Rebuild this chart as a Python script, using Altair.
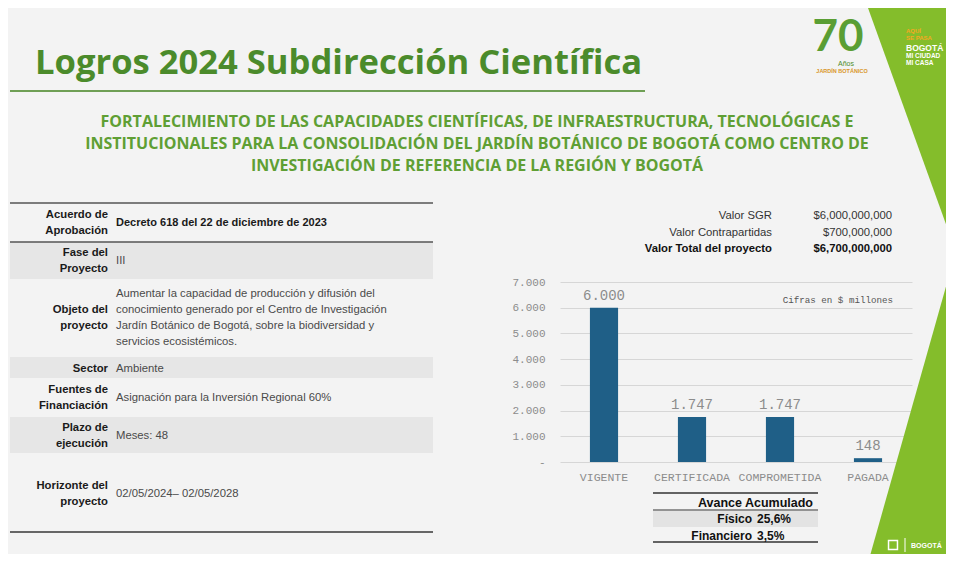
import altair as alt
import pandas as pd

# ---------------- data ----------------
categories = ["VIGENTE", "CERTIFICADA", "COMPROMETIDA", "PAGADA"]
values_mm = [6000, 1747, 1747, 148]
y_ticks = [0, 1000, 2000, 3000, 4000, 5000, 6000, 7000]

title_text = "Logros 2024 Subdirección Científica"
subtitle_lines = [
    "FORTALECIMIENTO DE LAS CAPACIDADES CIENTÍFICAS, DE INFRAESTRUCTURA, TECNOLÓGICAS E",
    "INSTITUCIONALES PARA LA CONSOLIDACIÓN DEL JARDÍN BOTÁNICO DE BOGOTÁ COMO CENTRO DE",
    "INVESTIGACIÓN DE REFERENCIA DE LA REGIÓN Y BOGOTÁ",
]
table_labels = [
    ["Acuerdo de", "Aprobación"],
    ["Fase del", "Proyecto"],
    ["Objeto del", "proyecto"],
    ["Sector"],
    ["Fuentes de", "Financiación"],
    ["Plazo de", "ejecución"],
    ["Horizonte del", "proyecto"],
]
table_values = [
    ["Decreto 618 del 22 de diciembre de 2023"],
    ["III"],
    ["Aumentar la capacidad de producción y difusión del",
     "conocimiento generado por el Centro de Investigación",
     "Jardín Botánico de Bogotá, sobre la biodiversidad y",
     "servicios ecosistémicos."],
    ["Ambiente"],
    ["Asignación para la Inversión Regional 60%"],
    ["Meses: 48"],
    ["02/05/2024– 02/05/2028"],
]
valor_labels = ["Valor SGR", "Valor Contrapartidas", "Valor Total del proyecto"]
valor_amounts = ["$6,000,000,000", "$700,000,000", "$6,700,000,000"]
avance_title = "Avance Acumulado"
avance_labels = ["Físico", "Financiero"]
avance_values = ["25,6%", "3,5%"]
cifras_note = "Cifras en $ millones"

# ---------------- layout / style ----------------
SANS = "Liberation Sans"
MONO = "Liberation Mono"
HEAD = "Open Sans"
GREEN_T = "#4b8b2b"
GREEN_S = "#5f9f34"
GREEN_BAND = "#84bd2b"
BAR = "#1f5f87"
AXIS_GRAY = "#8c8c8c"

PX0, PY0 = 560, 282          # page position of plot origin
PLOT_W, PLOT_H = 352, 180
TOTAL_W, TOTAL_H = 938, 546
LINE_H = 16


def X(p):
    return p - PX0


def Y(p):
    return p - PY0


ONE = pd.DataFrame({"k": [0]})


def txt(text, x, y, size, color, font=SANS, weight="normal", align="left",
        baseline="middle", line_height=None):
    props = dict(text=text, fontSize=size, color=color, font=font,
                 fontWeight=weight, align=align, baseline=baseline)
    if isinstance(text, list) and len(text) > 1:
        lh = line_height or LINE_H
        props["lineHeight"] = lh
        y = y - (len(text) - 1) * lh / 2.0   # centre the block on y
    return alt.Chart(ONE).mark_text(**props).encode(
        x=alt.value(X(x)), y=alt.value(Y(y)))


def hrule(x1, x2, y, color, width):
    return alt.Chart(ONE).mark_rule(color=color, strokeWidth=width).encode(
        x=alt.value(X(x1)), x2=alt.value(X(x2)), y=alt.value(Y(y)))


def vrule(x, y1, y2, color, width):
    return alt.Chart(ONE).mark_rule(color=color, strokeWidth=width).encode(
        x=alt.value(X(x)), y=alt.value(Y(y1)), y2=alt.value(Y(y2)))


def box(x1, x2, y1, y2, color):
    return alt.Chart(ONE).mark_rect(color=color).encode(
        x=alt.value(X(x1)), x2=alt.value(X(x2)),
        y=alt.value(Y(y1)), y2=alt.value(Y(y2)))


def polygon(path, color):
    # custom symbol path; size 4 -> path units are pixels
    return alt.Chart(ONE).mark_point(
        shape=path, size=4, filled=True, color=color, opacity=1, strokeWidth=0
    ).encode(x=alt.value(X(0)), y=alt.value(Y(0)))


layers = []

# green decorative bands on the right
layers.append(polygon("M868,8L960,8L960,263Z", GREEN_BAND))
layers.append(polygon("M960,237L960,570L866,570Z", GREEN_BAND))

# ---------------- bar chart ----------------
bar_df = pd.DataFrame({
    "categoria": categories,
    "valor": values_mm,
    "etiqueta": [f"{v:,}".replace(",", ".") for v in values_mm],
})

x_enc = alt.X(
    "categoria:N", sort=categories,
    scale=alt.Scale(paddingInner=0.68, paddingOuter=0.34),
    axis=alt.Axis(title=None, labelAngle=0, labelFont=MONO, labelFontSize=11.5,
                  labelColor=AXIS_GRAY, labelPadding=9, ticks=False,
                  domain=False, grid=False),
)
y_enc = alt.Y(
    "valor:Q",
    scale=alt.Scale(domain=[0, 7000], nice=False),
    axis=alt.Axis(title=None, values=y_ticks, tickCount=8, labelOverlap=False,
                  labelExpr="datum.value == 0 ? '-' : replace(format(datum.value, ','), ',', '.')",
                  labelFont=MONO, labelFontSize=11, labelColor=AXIS_GRAY,
                  labelPadding=15, ticks=False, domain=False, grid=True,
                  gridColor="#d6d6d6", gridWidth=1),
)

bars = alt.Chart(bar_df).mark_bar(color=BAR).encode(x=x_enc, y=y_enc)
bar_labels = alt.Chart(bar_df).mark_text(
    dy=-8, baseline="alphabetic", font=MONO, fontSize=14, color=AXIS_GRAY
).encode(x=x_enc, y=y_enc, text="etiqueta:N")

layers += [bars, bar_labels]
layers.append(txt(cifras_note, 893, 300, 9.2, "#555555", font=MONO, align="right"))

# ---------------- header ----------------
layers.append(txt(title_text, 35, 74, 34.6, GREEN_T, font=HEAD, weight="bold",
                  baseline="alphabetic"))
layers.append(hrule(10, 645, 91, "#6f9f55", 2))
for line, yb in zip(subtitle_lines, [127, 149, 171]):
    layers.append(txt(line, 477, yb, 16, GREEN_S, font=HEAD, weight="bold",
                      align="center", baseline="alphabetic"))

# 70 años logo
layers.append(txt("70", 838, 51, 44, "#5a9e34", font="Lato", weight="bold",
                  align="center", baseline="alphabetic"))
layers.append(txt("Años", 846, 64, 7, "#4b8b2b", align="center"))
layers.append(txt("JARDÍN BOTÁNICO", 842, 71, 5.5, "#d9962a", weight="bold", align="center"))

# slogan on green band
layers.append(txt("AQUÍ", 906, 31, 6, "#f6a821", weight="bold"))
layers.append(txt("SE PASA", 906, 38, 6, "#f6a821", weight="bold"))
layers.append(txt("BOGOTÁ", 906, 48, 8.5, "white", weight="bold"))
layers.append(txt("MI CIUDAD", 906, 56, 6.5, "white", weight="bold"))
layers.append(txt("MI CASA", 906, 63, 6.5, "white", weight="bold"))

# footer
layers.append(alt.Chart(ONE).mark_point(shape="square", size=80, filled=False,
                                        color="white", strokeWidth=1.5, opacity=1)
              .encode(x=alt.value(X(893)), y=alt.value(Y(545))))
layers.append(vrule(905, 538, 552, "white", 1))
layers.append(txt("BOGOTÁ", 911, 546, 7, "white", weight="bold"))

# ---------------- left table ----------------
band_rows = [(242, 279), (357, 378), (417, 453)]
for y1, y2 in band_rows:
    layers.append(box(10, 433, y1, y2, "#e6e6e6"))
layers.append(hrule(10, 433, 203, "#555555", 1.5))
layers.append(hrule(10, 433, 242, "#555555", 1.5))
layers.append(hrule(10, 433, 532, "#666666", 2))

row_centers = [223, 261, 318, 369, 398, 435.5, 493.5]
for i, (lab, val, yc) in enumerate(zip(table_labels, table_values, row_centers)):
    layers.append(txt(lab, 108, yc, 11.3, "#1a1a1a", weight="bold", align="right"))
    layers.append(txt(val, 116, yc, 11 if i == 0 else 11.3,
                      "#1a1a1a" if i == 0 else "#4a4a4a",
                      weight="bold" if i == 0 else "normal"))

# ---------------- valor summary ----------------
for i, (lab, amt, yc) in enumerate(zip(valor_labels, valor_amounts, [216, 233, 249])):
    w = "bold" if i == 2 else "normal"
    c = "#111111" if i == 2 else "#333333"
    layers.append(txt(lab, 772, yc, 11.3, c, weight=w, align="right"))
    layers.append(txt(amt, 892, yc, 11.3, c, weight=w, align="right"))

# ---------------- avance acumulado ----------------
layers.append(box(653, 818, 511, 527, "#e3e3e3"))
layers.append(hrule(653, 818, 493, "#333333", 1.5))
layers.append(hrule(653, 818, 510, "#333333", 1))
layers.append(hrule(653, 818, 542, "#333333", 1.5))
layers.append(txt(avance_title, 813, 503, 12.5, "#111111", weight="bold", align="right"))
for lab, val, yc in zip(avance_labels, avance_values, [519, 535.5]):
    layers.append(txt(lab, 752, yc, 12, "#111111", weight="bold", align="right"))
    layers.append(txt(val, 757, yc, 12, "#111111", weight="bold", align="left"))

chart = alt.layer(*layers).properties(
    width=PLOT_W,
    height=PLOT_H,
    padding={"left": PX0 - 8, "top": PY0 - 8,
             "right": TOTAL_W - (PX0 - 8) - PLOT_W,
             "bottom": TOTAL_H - (PY0 - 8) - PLOT_H},
    autosize="none",
    background="#f3f3f3",
).configure_view(stroke=None)

chart.save("out.html", embed_options={"renderer": "svg", "actions": False})
